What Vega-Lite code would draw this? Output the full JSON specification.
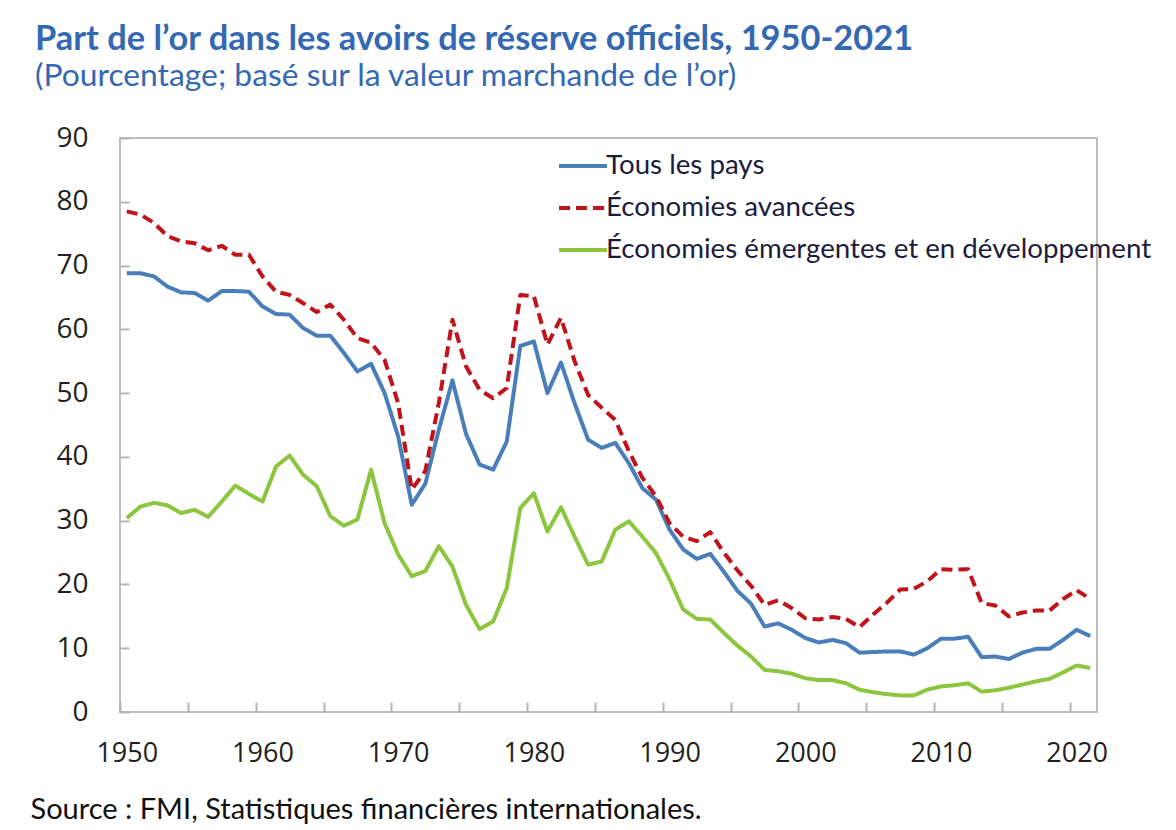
{
  "$schema": "https://vega.github.io/schema/vega-lite/v6.json",
  "width": 977,
  "height": 574,
  "autosize": {"type": "none"},
  "padding": {"left": 120, "top": 138, "right": 79, "bottom": 118},
  "background": "white",
  "title": {
    "text": "Part de l’or dans les avoirs de réserve officiels, 1950-2021",
    "subtitle": "(Pourcentage; basé sur la valeur marchande de l’or)",
    "anchor": "start",
    "frame": "group",
    "dx": -85,
    "offset": 30,
    "font": "Lato",
    "fontSize": 34.4,
    "fontWeight": "bold",
    "color": "#3468b2",
    "subtitleFont": "Lato",
    "subtitleFontSize": 31.8,
    "subtitleColor": "#3468b2",
    "subtitlePadding": 4
  },
  "data": {
    "values": [
      {"annee": 1950, "tous": 68.8, "avancees": 78.5, "emergentes": 30.4},
      {"annee": 1951, "tous": 68.8, "avancees": 78.0, "emergentes": 32.2},
      {"annee": 1952, "tous": 68.3, "avancees": 76.7, "emergentes": 32.8},
      {"annee": 1953, "tous": 66.7, "avancees": 74.6, "emergentes": 32.4},
      {"annee": 1954, "tous": 65.8, "avancees": 73.8, "emergentes": 31.2},
      {"annee": 1955, "tous": 65.7, "avancees": 73.5, "emergentes": 31.7},
      {"annee": 1956, "tous": 64.5, "avancees": 72.4, "emergentes": 30.6},
      {"annee": 1957, "tous": 66.0, "avancees": 73.1, "emergentes": 33.0},
      {"annee": 1958, "tous": 66.0, "avancees": 71.7, "emergentes": 35.5},
      {"annee": 1959, "tous": 65.9, "avancees": 71.7, "emergentes": 34.2},
      {"annee": 1960, "tous": 63.6, "avancees": 68.3, "emergentes": 33.0},
      {"annee": 1961, "tous": 62.4, "avancees": 65.9, "emergentes": 38.5},
      {"annee": 1962, "tous": 62.3, "avancees": 65.4, "emergentes": 40.2},
      {"annee": 1963, "tous": 60.2, "avancees": 64.1, "emergentes": 37.2},
      {"annee": 1964, "tous": 59.0, "avancees": 62.7, "emergentes": 35.4},
      {"annee": 1965, "tous": 59.0, "avancees": 63.9, "emergentes": 30.7},
      {"annee": 1966, "tous": 56.3, "avancees": 61.5, "emergentes": 29.2},
      {"annee": 1967, "tous": 53.4, "avancees": 58.6, "emergentes": 30.2},
      {"annee": 1968, "tous": 54.6, "avancees": 57.9, "emergentes": 38.0},
      {"annee": 1969, "tous": 50.0, "avancees": 55.2, "emergentes": 29.6},
      {"annee": 1970, "tous": 43.2, "avancees": 48.4, "emergentes": 24.7},
      {"annee": 1971, "tous": 32.5, "avancees": 34.9, "emergentes": 21.3},
      {"annee": 1972, "tous": 35.8, "avancees": 37.8, "emergentes": 22.1},
      {"annee": 1973, "tous": 44.3, "avancees": 48.5, "emergentes": 26.0},
      {"annee": 1974, "tous": 52.0, "avancees": 61.5, "emergentes": 22.8},
      {"annee": 1975, "tous": 43.6, "avancees": 54.2, "emergentes": 16.8},
      {"annee": 1976, "tous": 38.8, "avancees": 50.5, "emergentes": 13.0},
      {"annee": 1977, "tous": 38.0, "avancees": 49.2, "emergentes": 14.2},
      {"annee": 1978, "tous": 42.4, "avancees": 50.8, "emergentes": 19.4},
      {"annee": 1979, "tous": 57.4, "avancees": 65.4, "emergentes": 32.0},
      {"annee": 1980, "tous": 58.1, "avancees": 65.2, "emergentes": 34.3},
      {"annee": 1981, "tous": 50.0, "avancees": 57.6, "emergentes": 28.3},
      {"annee": 1982, "tous": 54.8, "avancees": 61.8, "emergentes": 32.1},
      {"annee": 1983, "tous": 48.4, "avancees": 55.0, "emergentes": 27.5},
      {"annee": 1984, "tous": 42.7, "avancees": 49.7, "emergentes": 23.1},
      {"annee": 1985, "tous": 41.4, "avancees": 47.7, "emergentes": 23.6},
      {"annee": 1986, "tous": 42.2, "avancees": 45.8, "emergentes": 28.6},
      {"annee": 1987, "tous": 39.0, "avancees": 40.9, "emergentes": 29.9},
      {"annee": 1988, "tous": 35.1, "avancees": 36.7, "emergentes": 27.5},
      {"annee": 1989, "tous": 33.3, "avancees": 33.8, "emergentes": 24.9},
      {"annee": 1990, "tous": 28.6, "avancees": 29.6, "emergentes": 20.8},
      {"annee": 1991, "tous": 25.5, "avancees": 27.5, "emergentes": 16.1},
      {"annee": 1992, "tous": 24.0, "avancees": 26.8, "emergentes": 14.6},
      {"annee": 1993, "tous": 24.8, "avancees": 28.2, "emergentes": 14.5},
      {"annee": 1994, "tous": 22.0, "avancees": 25.0, "emergentes": 12.4},
      {"annee": 1995, "tous": 19.0, "avancees": 22.2, "emergentes": 10.4},
      {"annee": 1996, "tous": 17.0, "avancees": 19.8, "emergentes": 8.7},
      {"annee": 1997, "tous": 13.4, "avancees": 16.8, "emergentes": 6.6},
      {"annee": 1998, "tous": 13.9, "avancees": 17.5, "emergentes": 6.4},
      {"annee": 1999, "tous": 12.9, "avancees": 16.3, "emergentes": 6.0},
      {"annee": 2000, "tous": 11.6, "avancees": 14.7, "emergentes": 5.3},
      {"annee": 2001, "tous": 10.9, "avancees": 14.5, "emergentes": 5.0},
      {"annee": 2002, "tous": 11.3, "avancees": 14.9, "emergentes": 5.0},
      {"annee": 2003, "tous": 10.8, "avancees": 14.6, "emergentes": 4.5},
      {"annee": 2004, "tous": 9.3, "avancees": 13.3, "emergentes": 3.5},
      {"annee": 2005, "tous": 9.4, "avancees": 15.3, "emergentes": 3.1},
      {"annee": 2006, "tous": 9.5, "avancees": 17.1, "emergentes": 2.8},
      {"annee": 2007, "tous": 9.5, "avancees": 19.2, "emergentes": 2.6},
      {"annee": 2008, "tous": 9.0, "avancees": 19.3, "emergentes": 2.6},
      {"annee": 2009, "tous": 10.0, "avancees": 20.5, "emergentes": 3.5},
      {"annee": 2010, "tous": 11.5, "avancees": 22.4, "emergentes": 4.0},
      {"annee": 2011, "tous": 11.5, "avancees": 22.3, "emergentes": 4.2},
      {"annee": 2012, "tous": 11.8, "avancees": 22.4, "emergentes": 4.5},
      {"annee": 2013, "tous": 8.6, "avancees": 17.1, "emergentes": 3.2},
      {"annee": 2014, "tous": 8.7, "avancees": 16.7, "emergentes": 3.4},
      {"annee": 2015, "tous": 8.3, "avancees": 15.0, "emergentes": 3.8},
      {"annee": 2016, "tous": 9.3, "avancees": 15.6, "emergentes": 4.3},
      {"annee": 2017, "tous": 9.9, "avancees": 15.9, "emergentes": 4.8},
      {"annee": 2018, "tous": 9.9, "avancees": 15.9, "emergentes": 5.2},
      {"annee": 2019, "tous": 11.3, "avancees": 17.7, "emergentes": 6.2},
      {"annee": 2020, "tous": 12.9, "avancees": 19.1, "emergentes": 7.3},
      {"annee": 2021, "tous": 11.9, "avancees": 17.7, "emergentes": 6.9}
    ]
  },
  "transform": [
    {"fold": ["tous", "avancees", "emergentes"], "as": ["serie", "valeur"]}
  ],
  "mark": {"type": "line", "strokeWidth": 4, "strokeCap": "butt", "strokeJoin": "round"},
  "encoding": {
    "x": {
      "field": "annee",
      "type": "quantitative",
      "scale": {"domain": [1949.5, 2021.5], "nice": false, "zero": false},
      "axis": {
        "values": [1950, 1955, 1960, 1965, 1970, 1975, 1980, 1985, 1990, 1995, 2000, 2005, 2010, 2015, 2020],
        "format": "d",
        "labelExpr": "datum.value % 10 == 0 ? datum.label : ''",
        "tickOffset": -6.785,
        "labelOffset": 6.785,
        "tickSize": -10,
        "tickColor": "#b5b5b5",
        "tickWidth": 2,
        "domain": false,
        "grid": false,
        "labelFont": "Open Sans",
        "labelFontSize": 27,
        "labelColor": "#231f20",
        "labelPadding": 38,
        "labelFlush": false,
        "labelOverlap": false,
        "title": "Source : FMI, Statistiques financières internationales.",
        "titleFont": "Lato",
        "titleFontSize": 29,
        "titleFontWeight": "normal",
        "titleColor": "#111111",
        "titleAnchor": "start",
        "titleAlign": "left",
        "titleBaseline": "alphabetic",
        "titleX": -90,
        "titleY": 106
      }
    },
    "y": {
      "field": "valeur",
      "type": "quantitative",
      "scale": {"domain": [0, 90], "nice": false},
      "axis": {
        "values": [0, 10, 20, 30, 40, 50, 60, 70, 80, 90],
        "tickSize": -9,
        "tickColor": "#b5b5b5",
        "tickWidth": 2,
        "domain": false,
        "grid": false,
        "labelFont": "Open Sans",
        "labelFontSize": 28,
        "labelColor": "#231f20",
        "labelPadding": 41,
        "title": null
      }
    },
    "color": {
      "field": "serie",
      "type": "nominal",
      "scale": {
        "domain": ["tous", "avancees", "emergentes"],
        "range": ["#4a7ebb", "#c0141c", "#8cc63f"]
      },
      "legend": {
        "orient": "none",
        "legendX": 437,
        "legendY": 2,
        "title": null,
        "labelExpr": "datum.value == 'tous' ? 'Tous les pays' : datum.value == 'avancees' ? 'Économies avancées' : 'Économies émergentes et en développement'",
        "symbolType": "stroke",
        "symbolSize": 2304,
        "symbolStrokeWidth": 4,
        "labelFont": "Lato",
        "labelFontSize": 27.7,
        "labelColor": "#1c1c3c",
        "labelOffset": -3,
        "labelLimit": 0,
        "rowPadding": 2
      }
    },
    "strokeDash": {
      "field": "serie",
      "type": "nominal",
      "scale": {
        "domain": ["tous", "avancees", "emergentes"],
        "range": [[1, 0], [11, 6], [1, 0]]
      },
      "legend": {
        "orient": "none",
        "legendX": 437,
        "legendY": 2,
        "title": null,
        "labelExpr": "datum.value == 'tous' ? 'Tous les pays' : datum.value == 'avancees' ? 'Économies avancées' : 'Économies émergentes et en développement'",
        "symbolType": "stroke",
        "symbolSize": 2304,
        "symbolStrokeWidth": 4,
        "labelFont": "Lato",
        "labelFontSize": 27.7,
        "labelColor": "#1c1c3c",
        "labelOffset": -3,
        "labelLimit": 0,
        "rowPadding": 2
      }
    }
  },
  "config": {
    "view": {"stroke": "#bdbdbd", "strokeWidth": 2}
  }
}
